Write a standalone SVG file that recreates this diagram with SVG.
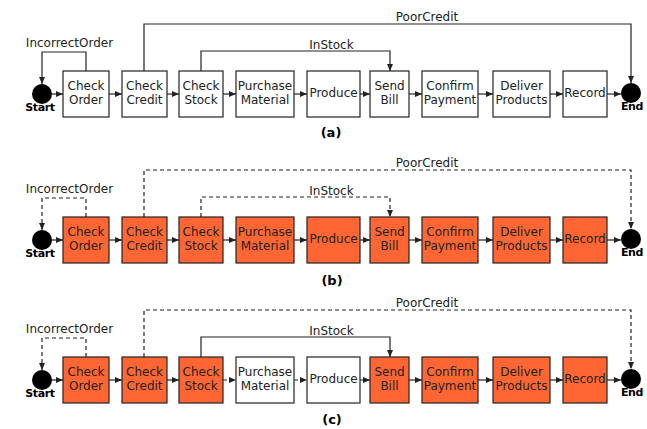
<svg xmlns="http://www.w3.org/2000/svg" width="647" height="429" viewBox="0 0 647 429">
<style>
.bx{fill:#fff;stroke:#222;stroke-width:1.2}
.hot{fill:#FF6633}
.t{font-family:"DejaVu Sans",sans-serif;font-size:12px;fill:#222;text-anchor:middle}
.lb{font-family:"DejaVu Sans",sans-serif;font-size:12px;fill:#222;text-anchor:middle}
.bd{font-family:"DejaVu Sans",sans-serif;font-size:11px;font-weight:bold;fill:#000;text-anchor:middle;letter-spacing:-0.4px}
.cap{font-family:"DejaVu Sans",sans-serif;font-size:13px;font-weight:bold;fill:#000;text-anchor:middle}
.e{fill:none;stroke:#222;stroke-width:1.2;marker-end:url(#ah)}
.d{stroke-dasharray:4 3}
.dot{fill:#000}
</style>
<defs>
<marker id="ah" viewBox="0 0 7 6" refX="7" refY="3" markerWidth="7" markerHeight="6" markerUnits="userSpaceOnUse" orient="auto"><path d="M0,0 L7,3 L0,6z" fill="#222"/></marker>
</defs>

<!-- Panel (a) -->
<g id="panel-a">
<g id="a-edges">
<path class="e" d="M52,94H63"/>
<path class="e" d="M109,94H122"/>
<path class="e" d="M167,94H179"/>
<path class="e" d="M223,94H236"/>
<path class="e" d="M294,94H307"/>
<path class="e" d="M360,94H370"/>
<path class="e" d="M409,94H422"/>
<path class="e" d="M478,94H493"/>
<path class="e" d="M550,94H563"/>
<path class="e" d="M607,94H621"/>
<path class="e" d="M86,71V52H42V84"/>
<path class="e" d="M144,71V24H631V83"/>
<path class="e" d="M201,71V51H390V71"/>
<text class="lb" x="69.5" y="46.5">IncorrectOrder</text>
<text class="lb" x="427" y="20.5">PoorCredit</text>
<text class="lb" x="331.5" y="48.5">InStock</text>
</g>
<g id="a-start"><circle class="dot" cx="42" cy="94" r="10"/><text class="bd" x="40" y="111">Start</text></g>
<g id="a-end"><circle class="dot" cx="631" cy="93" r="10"/><text class="bd" x="632" y="110">End</text></g>
<g id="a-checkOrder"><rect class="bx" x="63" y="71" width="46" height="46"/><text class="t" x="86" y="90">Check</text><text class="t" x="86" y="104">Order</text></g>
<g id="a-checkCredit"><rect class="bx" x="122" y="71" width="45" height="46"/><text class="t" x="144.5" y="90">Check</text><text class="t" x="144.5" y="104">Credit</text></g>
<g id="a-checkStock"><rect class="bx" x="179" y="71" width="44" height="46"/><text class="t" x="201" y="90">Check</text><text class="t" x="201" y="104">Stock</text></g>
<g id="a-purchaseMaterial"><rect class="bx" x="236" y="71" width="58" height="46"/><text class="t" x="265" y="90">Purchase</text><text class="t" x="265" y="104">Material</text></g>
<g id="a-produce"><rect class="bx" x="307" y="71" width="53" height="46"/><text class="t" x="333.5" y="97">Produce</text></g>
<g id="a-sendBill"><rect class="bx" x="370" y="71" width="39" height="46"/><text class="t" x="389.5" y="90">Send</text><text class="t" x="389.5" y="104">Bill</text></g>
<g id="a-confirmPayment"><rect class="bx" x="422" y="71" width="56" height="46"/><text class="t" x="450" y="90">Confirm</text><text class="t" x="450" y="104">Payment</text></g>
<g id="a-deliverProducts"><rect class="bx" x="493" y="71" width="57" height="46"/><text class="t" x="521.5" y="90">Deliver</text><text class="t" x="521.5" y="104">Products</text></g>
<g id="a-record"><rect class="bx" x="563" y="71" width="44" height="46"/><text class="t" x="585" y="97">Record</text></g>
</g>
<text class="cap" x="331" y="137">(a)</text>

<!-- Panel (b) -->
<g id="panel-b" transform="translate(0,146)">
<g id="b-edges">
<path class="e" d="M52,94H63"/>
<path class="e" d="M109,94H122"/>
<path class="e" d="M167,94H179"/>
<path class="e" d="M223,94H236"/>
<path class="e" d="M294,94H307"/>
<path class="e" d="M360,94H370"/>
<path class="e" d="M409,94H422"/>
<path class="e" d="M478,94H493"/>
<path class="e" d="M550,94H563"/>
<path class="e" d="M607,94H621"/>
<path class="e d" d="M86,71V52H42V84"/>
<path class="e d" d="M144,71V24H631V83"/>
<path class="e d" d="M201,71V51H390V71"/>
<text class="lb" x="69.5" y="46.5">IncorrectOrder</text>
<text class="lb" x="427" y="20.5">PoorCredit</text>
<text class="lb" x="331.5" y="48.5">InStock</text>
</g>
<g id="b-start"><circle class="dot" cx="42" cy="94" r="10"/><text class="bd" x="40" y="111">Start</text></g>
<g id="b-end"><circle class="dot" cx="631" cy="93" r="10"/><text class="bd" x="632" y="110">End</text></g>
<g id="b-checkOrder"><rect class="bx hot" x="63" y="71" width="46" height="46"/><text class="t" x="86" y="90">Check</text><text class="t" x="86" y="104">Order</text></g>
<g id="b-checkCredit"><rect class="bx hot" x="122" y="71" width="45" height="46"/><text class="t" x="144.5" y="90">Check</text><text class="t" x="144.5" y="104">Credit</text></g>
<g id="b-checkStock"><rect class="bx hot" x="179" y="71" width="44" height="46"/><text class="t" x="201" y="90">Check</text><text class="t" x="201" y="104">Stock</text></g>
<g id="b-purchaseMaterial"><rect class="bx hot" x="236" y="71" width="58" height="46"/><text class="t" x="265" y="90">Purchase</text><text class="t" x="265" y="104">Material</text></g>
<g id="b-produce"><rect class="bx hot" x="307" y="71" width="53" height="46"/><text class="t" x="333.5" y="97">Produce</text></g>
<g id="b-sendBill"><rect class="bx hot" x="370" y="71" width="39" height="46"/><text class="t" x="389.5" y="90">Send</text><text class="t" x="389.5" y="104">Bill</text></g>
<g id="b-confirmPayment"><rect class="bx hot" x="422" y="71" width="56" height="46"/><text class="t" x="450" y="90">Confirm</text><text class="t" x="450" y="104">Payment</text></g>
<g id="b-deliverProducts"><rect class="bx hot" x="493" y="71" width="57" height="46"/><text class="t" x="521.5" y="90">Deliver</text><text class="t" x="521.5" y="104">Products</text></g>
<g id="b-record"><rect class="bx hot" x="563" y="71" width="44" height="46"/><text class="t" x="585" y="97">Record</text></g>
</g>
<text class="cap" x="332" y="285">(b)</text>

<!-- Panel (c) -->
<g id="panel-c" transform="translate(0,286)">
<g id="c-edges">
<path class="e" d="M52,94H63"/>
<path class="e" d="M109,94H122"/>
<path class="e" d="M167,94H179"/>
<path class="e d" d="M223,94H236"/>
<path class="e d" d="M294,94H307"/>
<path class="e d" d="M360,94H370"/>
<path class="e" d="M409,94H422"/>
<path class="e" d="M478,94H493"/>
<path class="e" d="M550,94H563"/>
<path class="e" d="M607,94H621"/>
<path class="e d" d="M86,71V52H42V84"/>
<path class="e d" d="M144,71V24H631V83"/>
<path class="e" d="M201,71V51H390V71"/>
<text class="lb" x="69.5" y="46.5">IncorrectOrder</text>
<text class="lb" x="427" y="20.5">PoorCredit</text>
<text class="lb" x="331.5" y="48.5">InStock</text>
</g>
<g id="c-start"><circle class="dot" cx="42" cy="94" r="10"/><text class="bd" x="40" y="111">Start</text></g>
<g id="c-end"><circle class="dot" cx="631" cy="93" r="10"/><text class="bd" x="632" y="110">End</text></g>
<g id="c-checkOrder"><rect class="bx hot" x="63" y="71" width="46" height="46"/><text class="t" x="86" y="90">Check</text><text class="t" x="86" y="104">Order</text></g>
<g id="c-checkCredit"><rect class="bx hot" x="122" y="71" width="45" height="46"/><text class="t" x="144.5" y="90">Check</text><text class="t" x="144.5" y="104">Credit</text></g>
<g id="c-checkStock"><rect class="bx hot" x="179" y="71" width="44" height="46"/><text class="t" x="201" y="90">Check</text><text class="t" x="201" y="104">Stock</text></g>
<g id="c-purchaseMaterial"><rect class="bx" x="236" y="71" width="58" height="46"/><text class="t" x="265" y="90">Purchase</text><text class="t" x="265" y="104">Material</text></g>
<g id="c-produce"><rect class="bx" x="307" y="71" width="53" height="46"/><text class="t" x="333.5" y="97">Produce</text></g>
<g id="c-sendBill"><rect class="bx hot" x="370" y="71" width="39" height="46"/><text class="t" x="389.5" y="90">Send</text><text class="t" x="389.5" y="104">Bill</text></g>
<g id="c-confirmPayment"><rect class="bx hot" x="422" y="71" width="56" height="46"/><text class="t" x="450" y="90">Confirm</text><text class="t" x="450" y="104">Payment</text></g>
<g id="c-deliverProducts"><rect class="bx hot" x="493" y="71" width="57" height="46"/><text class="t" x="521.5" y="90">Deliver</text><text class="t" x="521.5" y="104">Products</text></g>
<g id="c-record"><rect class="bx hot" x="563" y="71" width="44" height="46"/><text class="t" x="585" y="97">Record</text></g>
</g>
<text class="cap" x="332" y="424">(c)</text>
</svg>
